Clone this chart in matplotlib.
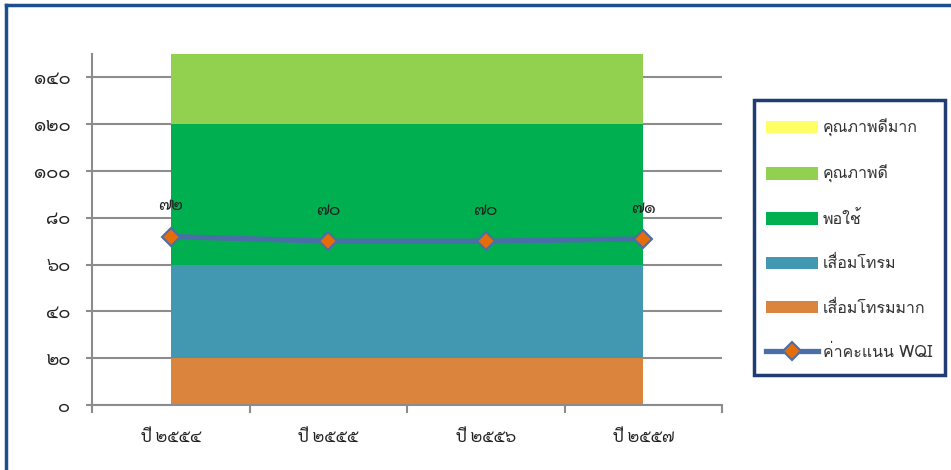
import matplotlib
matplotlib.use("Agg")
import matplotlib.pyplot as plt
from matplotlib.patches import Patch, Rectangle
from matplotlib.lines import Line2D
import numpy as np

# --- data ---
years = ["ปี ๒๕๕๔", "ปี ๒๕๕๕", "ปี ๒๕๕๖", "ปี ๒๕๕๗"]
wqi = [72, 70, 70, 71]
wqi_labels = ["๗๒", "๗๐", "๗๐", "๗๑"]

# quality bands (stacked thickness), bottom to top
band_names = ["เสื่อมโทรมมาก", "เสื่อมโทรม", "พอใช้", "คุณภาพดี", "คุณภาพดีมาก"]
band_sizes = [20, 40, 60, 30, 50]
band_colors = ["#db843d", "#4298b0", "#00b050", "#92d050", "#ffff66"]

y_ticks = [0, 20, 40, 60, 80, 100, 120, 140]
y_tick_labels = ["๐", "๒๐", "๔๐", "๖๐", "๘๐", "๑๐๐", "๑๒๐", "๑๔๐"]

THAI_NUM = ["Sarabun", "DejaVu Sans"]
THAI_UI = ["Loma", "DejaVu Sans"]
GRID = "#8c8c8c"
LINE = "#4a6ea6"
W, H = 951, 470

fig = plt.figure(figsize=(W / 100, H / 100), dpi=100)
ax = fig.add_axes([92 / W, 65 / H, 630 / W, 351 / H])

x = np.arange(len(years))
ax.stackplot(x, *[[v] * len(x) for v in band_sizes], colors=band_colors, zorder=2)

ax.plot(x, wqi, color=LINE, lw=3.8, marker="D", markersize=9,
        markerfacecolor="#e46c0a", markeredgecolor=LINE, markeredgewidth=1.5, zorder=4)
for xi, v, lab in zip(x, wqi, wqi_labels):
    ax.annotate(lab, (xi, v), xytext=(0, 22), textcoords="offset points",
                ha="center", va="center", fontsize=12.5, family=THAI_NUM, color="#222222", zorder=5)

ax.set_xlim(-0.5, len(years) - 0.5)
ax.set_ylim(0, 150)
ax.set_yticks(y_ticks)
ax.set_yticklabels(y_tick_labels, family=THAI_NUM, fontsize=13, color="#222222")
ax.set_xticks(x)
ax.set_xticklabels(years, family=THAI_NUM, fontsize=12, color="#222222")
ax.set_xticks(np.arange(-0.5, len(years)), minor=True)
ax.tick_params(axis="x", which="major", length=0, pad=17)
ax.tick_params(axis="x", which="minor", length=6, width=1.5, color=GRID, direction="out")
ax.tick_params(axis="y", length=4.5, width=1.5, color=GRID, pad=11)

ax.grid(True, axis="y", color=GRID, lw=1.5, zorder=1)
ax.set_axisbelow(True)
for side in ["top", "right"]:
    ax.spines[side].set_visible(False)
for side in ["left", "bottom"]:
    ax.spines[side].set_color(GRID)
    ax.spines[side].set_linewidth(1.5)
    ax.spines[side].set_zorder(3)

# legend, top band first; frame drawn separately
handles = [Patch(facecolor=c, edgecolor="none") for c in band_colors[::-1]]
labels = band_names[::-1]
handles.append(Line2D([], [], color=LINE, lw=3.8, marker="D", markersize=9,
                      markerfacecolor="#e46c0a", markeredgecolor=LINE, markeredgewidth=1.5))
labels.append("ค่าคะแนน WQI")
leg = fig.legend(handles, labels, loc="upper left", bbox_to_anchor=(766 / W, 1 - 119 / H),
                 bbox_transform=fig.transFigure, frameon=False,
                 prop={"family": THAI_UI, "size": 11.5}, labelspacing=1.76,
                 handlelength=3.25, handleheight=0.82, handletextpad=0.3,
                 borderpad=0, borderaxespad=0)
for t in leg.get_texts():
    t.set_color("#333333")
fig.add_artist(Rectangle((754 / W, 1 - 375 / H), 191 / W, 275 / H, transform=fig.transFigure,
                         fill=False, edgecolor="#1f3d73", lw=2.5))

# outer chart border (left and top only visible)
fig.add_artist(Line2D([6 / W, 6 / W], [0, 1 - 5 / H], transform=fig.transFigure,
                      color="#1f4e8c", lw=2.5))
fig.add_artist(Line2D([6 / W, 1], [1 - 5 / H, 1 - 5 / H], transform=fig.transFigure,
                      color="#1f4e8c", lw=2.5))

fig.savefig("out.png", dpi=100)
